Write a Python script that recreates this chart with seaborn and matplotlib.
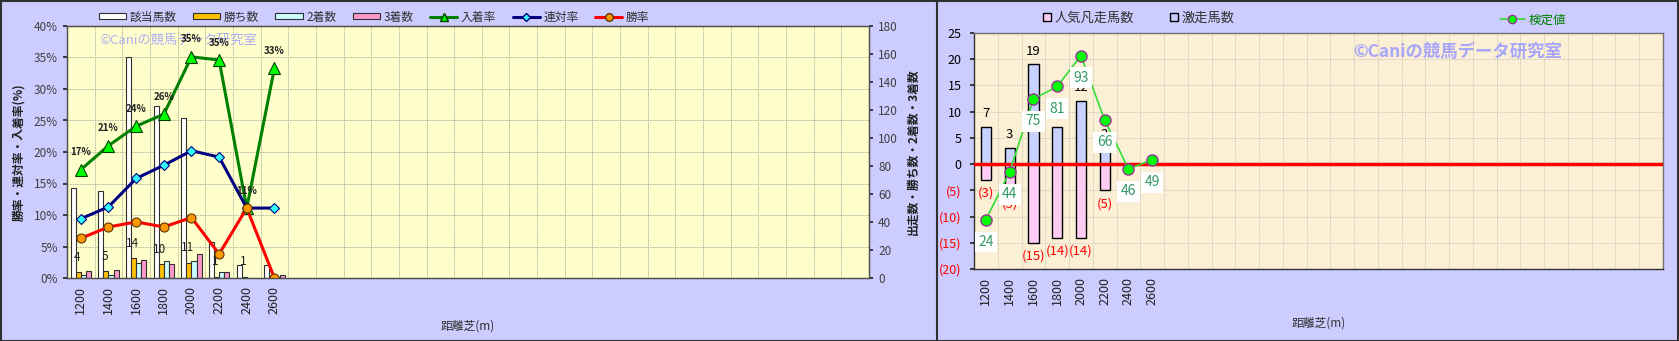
import numpy as np
import pandas as pd
import matplotlib
matplotlib.use('Agg')
import matplotlib.pyplot as plt
import seaborn as sns
from matplotlib.patches import Patch
from matplotlib.lines import Line2D

# ---------------- data ----------------
dists = ['1200', '1400', '1600', '1800', '2000', '2200', '2400', '2600']
n_slots = 29
runners = [64, 62, 158, 123, 114, 26, 9, 9]
wins = [4, 5, 14, 10, 11, 1, 1, 0]
seconds = [2, 2, 11, 12, 12, 4, 0, 1]
thirds = [5, 6, 13, 10, 17, 4, 0, 2]
place_rate = [17.2, 21.0, 24.1, 26.0, 35.1, 34.6, 11.1, 33.3]
quinella_rate = [9.4, 11.3, 15.8, 17.9, 20.2, 19.2, 11.1, 11.1]
win_rate = [6.3, 8.1, 8.9, 8.1, 9.6, 3.8, 11.1, 0.0]

gekiso = [7, 3, 19, 7, 12, 3, 0, 0]
bonso = [-3, -5, -15, -14, -14, -5, 0, 0]
kentei = [-10.6, -1.5, 12.4, 14.8, 20.7, 8.4, -0.9, 0.8]
kentei_labels = ['24', '44', '75', '81', '93', '66', '46', '49']

bar_series = ['該当馬数', '勝ち数', '2着数', '3着数']
bar_colors = ['#FFFFFF', '#FFC000', '#CCFFFF', '#FF99CC']
watermark = '©Caniの競馬データ研究室'

# ---------------- style ----------------
sns.set_theme(style='white')
plt.rcParams['font.family'] = ['Noto Sans CJK JP', 'DejaVu Sans']
plt.rcParams['axes.unicode_minus'] = False

W, H = 1679, 341
fig = plt.figure(figsize=(W / 100, H / 100), dpi=100, facecolor='#CCCCFF')

# ================= LEFT CHART =================
axL = fig.add_axes([67 / W, 1 - 278 / H, 802 / W, 252 / H])
axB = axL.twinx()
axL.set_zorder(3)
axB.set_zorder(2)
axL.patch.set_visible(False)
axB.patch.set_visible(True)
axB.patch.set_facecolor('#FFFFCC')

df = pd.DataFrame({
    'dist': np.repeat(dists, 4),
    'series': bar_series * len(dists),
    'count': np.ravel(np.column_stack([runners, wins, seconds, thirds])),
})
sns.barplot(data=df, x='dist', y='count', hue='series', order=dists,
            hue_order=bar_series, palette=bar_colors, ax=axB, width=0.74,
            gap=0, edgecolor='#303030', linewidth=0.8, legend=False,
            errorbar=None, saturation=1)

# win-count labels above gold bars
gold = axB.containers[1]
for rect, w in zip(gold, wins):
    if w > 0:
        axB.annotate(str(w), (rect.get_x() + rect.get_width() / 2, rect.get_height()),
                     xytext=(-1, 6), textcoords='offset points', ha='center',
                     va='bottom', fontsize=8.5, color='#202020')

xpos = np.arange(len(dists))
sns.lineplot(x=xpos, y=place_rate, ax=axL, color='#008000', linewidth=2.2,
             marker='^', markersize=8, markerfacecolor='#00FF00',
             markeredgecolor='#004000', markeredgewidth=0.8)
sns.lineplot(x=xpos, y=quinella_rate, ax=axL, color='#000080', linewidth=2.2,
             marker='D', markersize=5.5, markerfacecolor='#33FFFF',
             markeredgecolor='#000080', markeredgewidth=0.8)
sns.lineplot(x=xpos, y=win_rate, ax=axL, color='#FF0000', linewidth=2.2,
             marker='o', markersize=6.5, markerfacecolor='#FF9900',
             markeredgecolor='#603000', markeredgewidth=0.8)
for x, v in zip(xpos, place_rate):
    axL.annotate(f'{round(v)}%', (x, v), xytext=(0, 9), textcoords='offset points',
                 ha='center', va='bottom', fontsize=7, fontweight='bold', color='#202020')

axL.set_xlim(-0.5, n_slots - 0.5)
axL.set_ylim(0, 40)
axL.set_yticks(np.arange(0, 41, 5))
axL.set_yticklabels([f'{v}%' for v in range(0, 41, 5)])
axB.set_ylim(0, 180)
axB.set_yticks(np.arange(0, 181, 20))
axL.set_xticks(xpos)
axL.set_xticklabels(dists, rotation=90)
axB.xaxis.set_visible(True)
axB.set_xticks(np.arange(-0.5, n_slots, 1), minor=True)
axB.set_yticks(np.arange(0, 181, 22.5), minor=True)
axB.grid(True, which='minor', color='#B0B0A0', linestyle=(0, (2, 1)), linewidth=0.6)
axB.grid(False, which='major')
axL.grid(False)
axB.tick_params(axis='x', which='both', labelbottom=False, length=0)
axB.tick_params(axis='y', which='minor', length=0)
axL.tick_params(axis='x', which='both', length=0, pad=6, labelsize=9, labelcolor='#202020')
axL.tick_params(axis='y', length=3, labelsize=8.5, labelcolor='#404040', left=True, direction='out')
axB.tick_params(axis='y', which='major', length=3, labelsize=8.5, labelcolor='#404040', right=True, direction='out')
axL.set_xlabel('距離芝(m)', fontsize=8.5, color='#303030', labelpad=4)
axL.set_ylabel('勝率・連対率・入着率(%)', fontsize=8.5, fontweight='bold', color='#202020', labelpad=6)
axB.set_ylabel('出走数・勝ち数・2着数・3着数', fontsize=8.5, fontweight='bold', color='#202020', labelpad=6)
axB.set_xlabel('')
for a in (axL, axB):
    for s in a.spines.values():
        s.set_color('#505050')
        s.set_linewidth(0.9)

axL.text(0.04, 0.944, watermark, transform=axL.transAxes, fontsize=9.5,
         color='#9999FF', alpha=0.8, va='center', ha='left', zorder=1)

left_handles = [Patch(facecolor=c, edgecolor='#303030', linewidth=0.8) for c in bar_colors]
left_handles += [
    Line2D([], [], color='#008000', lw=2.2, marker='^', ms=6, mfc='#00FF00', mec='#004000'),
    Line2D([], [], color='#000080', lw=2.2, marker='D', ms=4.5, mfc='#33FFFF', mec='#000080'),
    Line2D([], [], color='#FF0000', lw=2.2, marker='o', ms=5.5, mfc='#FF9900', mec='#603000'),
]
left_labels = bar_series + ['入着率', '連対率', '勝率']
fig.legend(left_handles, left_labels, loc='center',
           bbox_to_anchor=(374 / W, 1 - 17 / H), ncol=7, frameon=False,
           fontsize=8.5, handlelength=2.3, handleheight=0.45, columnspacing=1.4,
           handletextpad=0.3, labelcolor='#303030')

# ================= RIGHT CHART =================
axR = fig.add_axes([974 / W, 1 - 269 / H, 689 / W, 236 / H])
axR.set_facecolor('#FBEFD6')
sns.barplot(x=dists, y=gekiso, ax=axR, color='#C8D2FF', edgecolor='#000000',
            linewidth=1.0, width=0.43, saturation=1, errorbar=None)
sns.barplot(x=dists, y=bonso, ax=axR, color='#FFCCF4', edgecolor='#000000',
            linewidth=1.0, width=0.43, saturation=1, errorbar=None)
axR.axhline(0, color='#FF0000', linewidth=2.5, zorder=3)

for rect, v in zip(axR.containers[0], gekiso):
    if v > 0:
        axR.annotate(str(v), (rect.get_x() + rect.get_width() / 2, v),
                     xytext=(0, 5), textcoords='offset points', ha='center',
                     va='bottom', fontsize=9.5, color='#000000', zorder=4)
for rect, v in zip(axR.containers[1], bonso):
    if v < 0:
        axR.annotate(f'({-v})', (rect.get_x() + rect.get_width() / 2, v),
                     xytext=(0, -5), textcoords='offset points', ha='center',
                     va='top', fontsize=9.5, color='#FF0000', zorder=4)

sns.lineplot(x=xpos, y=kentei, ax=axR, color='#33DD33', linewidth=1.2,
             marker='o', markersize=8, markerfacecolor='#00FF00',
             markeredgecolor='#993399', markeredgewidth=1.0, zorder=6)
for x, v, t in zip(xpos, kentei, kentei_labels):
    axR.annotate(t, (x, v), xytext=(0, -11), textcoords='offset points',
                 ha='center', va='top', fontsize=10, color='#339966', zorder=7,
                 bbox=dict(boxstyle='square,pad=0.25', facecolor='white', edgecolor='none'))

axR.set_xlim(-0.5, n_slots - 0.5)
axR.set_ylim(-20, 25)
rt = list(range(-20, 26, 5))
axR.set_yticks(rt)
axR.set_yticklabels([f'({-v})' if v < 0 else str(v) for v in rt])
for lab, v in zip(axR.get_yticklabels(), rt):
    lab.set_color('#FF0000' if v < 0 else '#000000')
axR.set_xticks(xpos)
axR.set_xticklabels(dists, rotation=90)
axR.set_xticks(np.arange(-0.5, n_slots, 1), minor=True)
axR.grid(True, which='major', axis='y', color='#D0C8B8', linewidth=0.6, linestyle=(0, (2, 1)))
axR.grid(True, which='minor', axis='x', color='#D0C8B8', linewidth=0.6, linestyle=(0, (2, 1)))
axR.set_axisbelow(True)
axR.tick_params(axis='x', which='both', length=0, pad=6, labelsize=9, labelcolor='#202020')
axR.tick_params(axis='y', length=3, labelsize=9, left=True, direction='out', pad=6)
axR.set_xlabel('距離芝(m)', fontsize=8.5, color='#303030', labelpad=8)
axR.set_ylabel('')
for s in axR.spines.values():
    s.set_color('#707070')
    s.set_linewidth(1.0)
axR.spines['left'].set_color('#303030')
axR.spines['bottom'].set_color('#303030')

axR.text(0.55, 0.922, watermark, transform=axR.transAxes, fontsize=12.5,
         fontweight='bold', color='#9999FF', alpha=0.85, va='center',
         ha='left', zorder=2)

r_handles = [Patch(facecolor='#FFCCF4', edgecolor='#000000', linewidth=1.0),
             Patch(facecolor='#C8D2FF', edgecolor='#000000', linewidth=1.0)]
fig.legend(r_handles, ['人気凡走馬数', '激走馬数'], loc='center',
           bbox_to_anchor=(1139 / W, 1 - 18 / H), ncol=2, frameon=False,
           fontsize=9.5, handlelength=0.6, handleheight=0.6, columnspacing=2.7,
           handletextpad=0.3, labelcolor='#303030')
fig.legend([Line2D([], [], color='#33DD33', lw=1.2, marker='o', ms=6,
                   mfc='#00FF00', mec='#993399')], ['検定値'], loc='center',
           bbox_to_anchor=(1533 / W, 1 - 20 / H), frameon=False, fontsize=9,
           handlelength=2.0, handletextpad=0.3, labelcolor='#008000')

# panel borders
fig.add_artist(Line2D([937 / W, 937 / W], [0, 1], transform=fig.transFigure,
                      color='#303030', linewidth=1.5))
fig.add_artist(plt.Rectangle((0.5 / W, 0.5 / H), 1 - 1.5 / W, 1 - 1.5 / H,
                             transform=fig.transFigure, fill=False,
                             edgecolor='#303030', linewidth=1.5))

fig.savefig('out.png', dpi=100, facecolor=fig.get_facecolor())
